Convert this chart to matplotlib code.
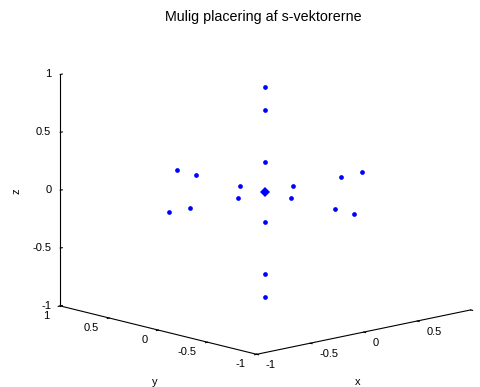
import numpy as np
import matplotlib
matplotlib.use("Agg")
import matplotlib.pyplot as plt
from mpl_toolkits.mplot3d import proj3d

plt.rcParams['font.family'] = ['Liberation Sans', 'DejaVu Sans']

# s-vector end points: three magnitudes along each coordinate axis, both signs
s_values = [0.259, 0.707, 0.906]
x_pts = [v * sgn for v in s_values for sgn in (1, -1)] + [0.0] * 12
y_pts = [0.0] * 6 + [v * sgn for v in s_values for sgn in (1, -1)] + [0.0] * 6
z_pts = [0.0] * 12 + [v * sgn for v in s_values for sgn in (1, -1)]
origin = [0.0, 0.0, 0.0]

ticks = [-1, -0.5, 0, 0.5, 1]
tick_labels = ['-1', '-0.5', '0', '0.5', '1']

W, H = 480, 387
fig = plt.figure(figsize=(W / 100, H / 100), dpi=100)
ax = fig.add_axes([0, 0, 1, 1], projection='3d')
ax.set_proj_type('ortho')
ax.view_init(elev=13.06, azim=-132.55)
ax.set_box_aspect((1, 1, 0.818))

ax.plot(x_pts, y_pts, z_pts, linestyle='none', marker='o', markersize=3.4,
        color='#0000ff', markeredgewidth=0)
ax.plot([origin[0]], [origin[1]], [origin[2]], linestyle='none', marker='D',
        markersize=4.6, color='#0000ff', markeredgewidth=0)

ax.set_xlim(-1, 1)
ax.set_ylim(-1, 1)
ax.set_zlim(-1, 1)
for axis, inward, outward in ((ax.xaxis, 0.12, 0.0), (ax.yaxis, 0.12, 0.0),
                              (ax.zaxis, 0.0, 0.12)):
    axis.set_ticks(ticks)
    axis.set_ticklabels([])
    axis.pane.set_visible(False)
    axis.line.set_color('black')
    axis.line.set_linewidth(0.8)
    axis._axinfo['grid']['linewidth'] = 0
    axis._axinfo['tick']['inward_factor'] = inward
    axis._axinfo['tick']['outward_factor'] = outward
ax.grid(False)
ax.tick_params(colors='black')
ax.set_xlim(-1, 1)
ax.set_ylim(-1, 1)
ax.set_zlim(-1, 1)


def screen(x, y, z):
    xs, ys, _ = proj3d.proj_transform(x, y, z, ax.get_proj())
    return np.array(ax.transData.transform((xs, ys)))


# fit the square 3-D panel so the box corners land where the frame should be
fig.canvas.draw()
a = screen(-1, -1, -1)
b = screen(1, -1, -1)
want_a = np.array([256.7, H - 354.3])
want_b = np.array([470.7, H - 310.0])
k = np.linalg.norm(want_b - want_a) / np.linalg.norm(b - a)
bbox = ax.get_position(original=False)
w = bbox.width * W
c = np.array([(bbox.x0 + bbox.width / 2) * W, (bbox.y0 + bbox.height / 2) * H])
c_new = want_a - k * (a - c)
w_new = k * w
ax.set_position([(c_new[0] - w_new / 2) / W, (c_new[1] - w_new / 2) / H,
                 w_new / W, w_new / H])
fig.canvas.draw()

# tick labels placed next to each tick in screen space; a label that would
# start past the right figure edge is left out
for t, lab in zip(ticks, tick_labels):
    px, py = screen(t, -1, -1)
    if px + 9 < W - 4:
        fig.text((px + 9) / W, (py - 10.5) / H, lab, ha='left', va='center',
                 fontsize=8)
    px, py = screen(-1, t, -1)
    fig.text((px - 11) / W, (py - 10) / H, lab, ha='right', va='center',
             fontsize=8)
    px, py = screen(-1, 1, t)
    fig.text((px - 9) / W, py / H, lab, ha='right', va='center', fontsize=8)

fig.text(263 / W, 1 - 17 / H, 'Mulig placering af s-vektorerne',
         ha='center', va='center', fontsize=10.3)
fig.text(155 / W, 1 - 382 / H, 'y', ha='center', va='center', fontsize=8)
fig.text(358 / W, 1 - 382 / H, 'x', ha='center', va='center', fontsize=8)
fig.text(16 / W, 1 - 191 / H, 'z', ha='center', va='center', fontsize=8,
         rotation=90)

fig.savefig('out.png', dpi=100)
